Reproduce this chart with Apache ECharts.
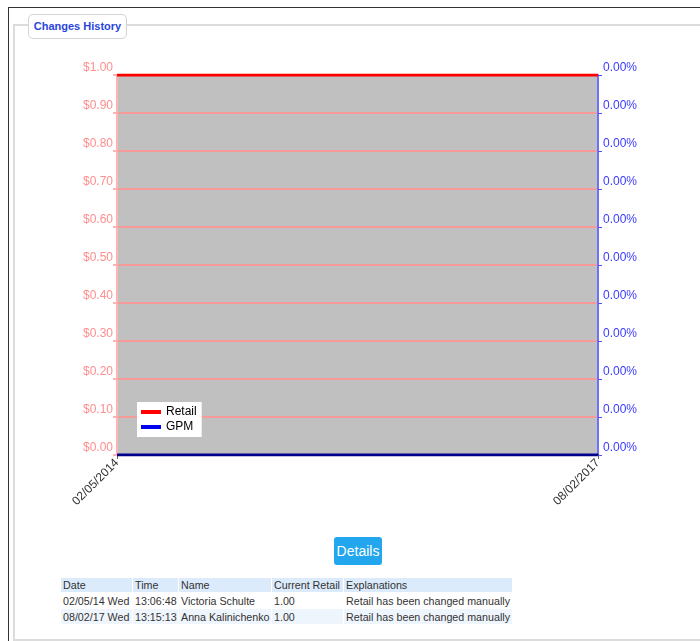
<!DOCTYPE html>
<html>
<head>
<meta charset="utf-8">
<script src="https://cdn.jsdelivr.net/npm/echarts@6/dist/echarts.min.js"></script>
<style>
  html, body { margin: 0; padding: 0; background: #fff; }
  body { width: 700px; height: 641px; position: relative; overflow: hidden;
         font-family: Arial, "Liberation Sans", sans-serif; }
  #frame { position: absolute; left: 8px; top: 7px; width: 720px; height: 660px;
           border-left: 1px solid #333; border-top: 1px solid #333; }
  #fs { position: absolute; left: 13px; top: 24px; width: 720px; height: 613px;
        border: 2px solid #dcdcdc; border-right: none; }
  #legend { position: absolute; left: 28px; top: 14px; width: 97px; height: 23px;
            border: 1px solid #d4d4d4; border-radius: 5px; background: #fff;
            color: #2a45e0; font-weight: bold; font-size: 11px; line-height: 23px; text-align: center; }
  #main { position: absolute; left: 0; top: 0; width: 700px; height: 530px; }
  #details { position: absolute; left: 334px; top: 537px; width: 48px; height: 28px;
             background: #22a6ee; color: #fff; border-radius: 3px; font-size: 14px;
             line-height: 28px; text-align: center; }
  table { position: absolute; left: 60px; top: 577px; border-collapse: collapse;
          table-layout: fixed; width: 452px; font-size: 10.7px; color: #333; }
  td { padding: 0 0 0 2px; height: 15px; white-space: nowrap; overflow: hidden;
       border: 1px solid #fff; }
  tr.h td { background: #dcebfb; height: 14px; }
  tr.r1 td { background: #fff; }
  tr.r2 td { background: #eff5fd; }
</style>
</head>
<body>
<div id="frame"></div>
<div id="fs"></div>
<div id="legend">Changes History</div>
<div id="main"></div>
<div id="details">Details</div>
<table id="tbl"></table>
<script>
// chart data
var dates = ['02/05/2014', '08/02/2017'];
var retail = [1.00, 1.00];
var gpm = [0, 0];

// history table
var tableHead = ['Date', 'Time', 'Name', 'Current Retail', 'Explanations'];
var tableRows = [
    ['02/05/14 Wed', '13:06:48', 'Victoria Schulte', '1.00', 'Retail has been changed manually'],
    ['08/02/17 Wed', '13:15:13', 'Anna Kalinichenko', '1.00', 'Retail has been changed manually']
];
var colWidths = [72, 46, 93, 72, 169];

var html = '<colgroup>';
colWidths.forEach(function (w) { html += '<col style="width:' + w + 'px">'; });
html += '</colgroup><tr class="h"><td>' + tableHead.join('</td><td>') + '</td></tr>';
tableRows.forEach(function (r, i) {
    html += '<tr class="r' + (i + 1) + '"><td>' + r.join('</td><td>') + '</td></tr>';
});
document.getElementById('tbl').innerHTML = html;

var font = 'Arial, "Liberation Sans", sans-serif';
var myChart = echarts.init(document.getElementById('main'));
myChart.setOption({
    animation: false,
    grid: {
        left: 117, top: 75, width: 481, height: 380,
        show: false
    },
    legend: {
        data: ['Retail', 'GPM'],
        orient: 'vertical',
        left: 137, top: 402,
        backgroundColor: '#fff',
        padding: [4, 5, 4, 4],
        itemGap: 3,
        itemWidth: 20, itemHeight: 4,
        icon: 'rect',
        textStyle: { fontSize: 12, color: '#000', fontFamily: font }
    },
    xAxis: {
        type: 'category',
        data: dates,
        boundaryGap: false,
        axisLine: { lineStyle: { color: '#00008b', width: 2 } },
        axisTick: { show: true, length: 4, lineStyle: { color: '#666' } },
        axisLabel: { rotate: 45, margin: 6, fontSize: 12, color: '#333', fontFamily: font },
        splitLine: { show: false }
    },
    yAxis: [
        {
            type: 'value', min: 0, max: 1, interval: 0.1,
            axisLine: { show: true, lineStyle: { color: '#ffb4b4', width: 2 } },
            axisTick: { show: true, length: 4, lineStyle: { color: '#ffb4b4', width: 2 } },
            axisLabel: {
                color: '#ff8e8e', fontSize: 12, fontFamily: font, margin: 4,
                verticalAlign: 'bottom', padding: [0, 0, 1, 0],
                formatter: function (v) { return '$' + v.toFixed(2); }
            },
            splitArea: { show: true, areaStyle: { color: ['#c0c0c0', '#c0c0c0'] } },
            splitLine: { show: true, lineStyle: { color: '#f79a9a', width: 2 } }
        },
        {
            type: 'value', min: 0, max: 0.0001, interval: 0.00001,
            position: 'right',
            axisLine: { show: true, lineStyle: { color: '#7070ff', width: 2 } },
            axisTick: { show: true, length: 4, lineStyle: { color: '#5050ff' } },
            axisLabel: {
                color: '#3a3aff', fontSize: 12, fontFamily: font, margin: 5,
                verticalAlign: 'bottom', padding: [0, 0, 1, 0],
                formatter: function (v) { return v.toFixed(2) + '%'; }
            },
            splitLine: { show: false }
        }
    ],
    series: [
        {
            name: 'Retail', type: 'line', data: retail,
            symbol: 'none', color: '#ff0000',
            lineStyle: { width: 3, color: '#ff0000' }, z: 5
        },
        {
            name: 'GPM', type: 'line', yAxisIndex: 1, data: gpm,
            symbol: 'none', color: '#0000ee',
            lineStyle: { width: 3, color: '#00008b' }, z: 5
        }
    ]
});
</script>
</body>
</html>
